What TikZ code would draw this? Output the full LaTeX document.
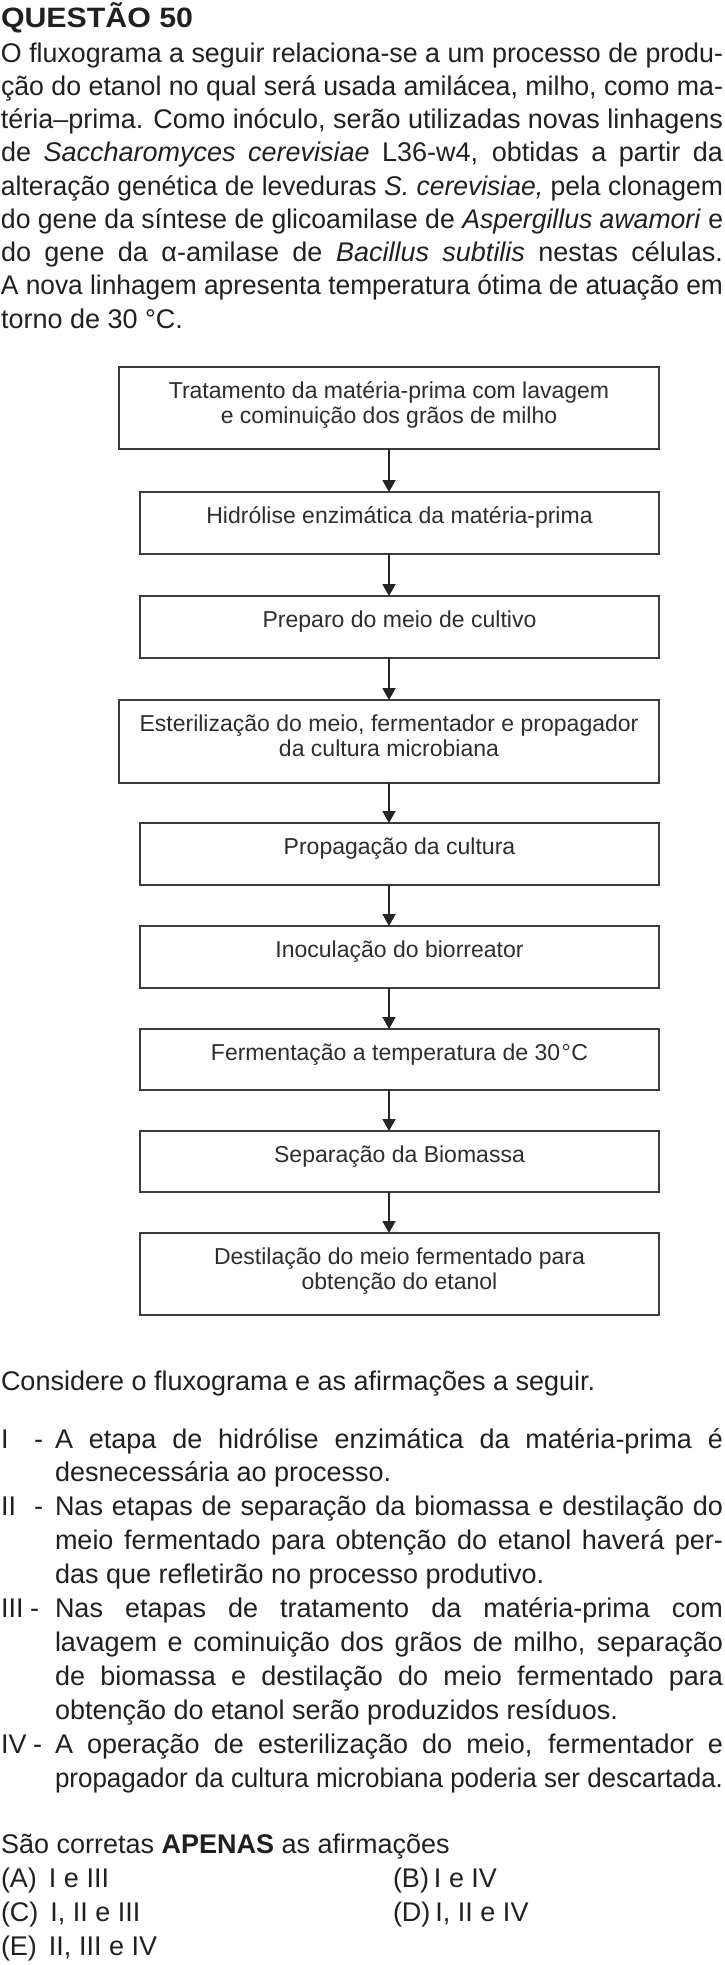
\documentclass[tikz,border=0pt]{standalone}
\usepackage{fontspec}
\setmainfont{Liberation Sans}
\usepackage{graphicx}
\usetikzlibrary{arrows.meta}
\definecolor{ink}{RGB}{35,31,32}
\definecolor{boxline}{RGB}{60,60,60}
\definecolor{boxink}{RGB}{45,45,45}
\newlength\jlw
\newcommand\jline[2]{\settowidth\jlw{#2}\ifdim\jlw>#1\relax\resizebox{#1}{\height}{#2}\else\makebox[#1][s]{#2}\fi}
\newcommand\bodyln[1]{\hbox{\jline{722bp}{#1}}}
\newcommand\stmln[1]{\hbox{\jline{668bp}{#1}}}
\newcommand\mylines[2]{\vtop{\baselineskip=#1\lineskiplimit=-100bp\lineskip=0bp\relax #2}}
\tikzset{
  txt/.style={inner sep=0pt, outer sep=0pt, text=ink, anchor=base west, font=\fontsize{27.1}{33.4}\selectfont},
  ttl/.style={txt, font=\fontsize{28.1}{33}\selectfont\bfseries},
  flowbox/.style={draw=boxline, line width=1.4bp, inner sep=0pt, outer sep=0pt, minimum height=62bp, minimum width=519bp},
  btxt/.style={inner sep=0pt, outer sep=0pt, text=boxink, align=center, anchor=north, font=\fontsize{23.1}{25.6}\selectfont},
  arr/.style={draw=black!85, line width=1.9bp, -{Triangle[length=12bp,width=13bp]}}
}
\begin{document}
\begin{tikzpicture}[x=1bp,y=-1bp]
\useasboundingbox[fill=white] (0,0) rectangle (725,1965);

% title and introduction
\node[ttl] (title) at (1,27) {\resizebox{192bp}{\height}{QUESTÃO 50}};
\node[txt] (intro) at (1,62) {\mylines{33.25bp}{%
\bodyln{O fluxograma a seguir relaciona-se a um processo de produ-}
\bodyln{ção do etanol no qual será usada amilácea, milho, como ma-}
\bodyln{téria–prima. Como inóculo, serão utilizadas novas linhagens}
\bodyln{de \textit{Saccharomyces cerevisiae} L36-w4, obtidas a partir da}
\bodyln{alteração genética de leveduras \textit{S. cerevisiae,} pela clonagem}
\bodyln{do gene da síntese de glicoamilase de \textit{Aspergillus awamori} e}
\bodyln{do gene da α-amilase de \textit{Bacillus subtilis} nestas células.}
\bodyln{A nova linhagem apresenta temperatura ótima de atuação em}
\hbox{torno de 30 °C.}}};

% flowchart boxes
\node[flowbox, minimum width=540bp, minimum height=82bp] (b1) at (389,408) {};
\node[flowbox] (b2) at (399.5,523) {};
\node[flowbox] (b3) at (399.5,627) {};
\node[flowbox, minimum width=540bp, minimum height=83bp] (b4) at (389,741.5) {};
\node[flowbox] (b5) at (399.5,854) {};
\node[flowbox] (b6) at (399.5,957) {};
\node[flowbox, minimum height=61bp] (b7) at (399.5,1059.5) {};
\node[flowbox, minimum height=61bp] (b8) at (399.5,1161.5) {};
\node[flowbox, minimum height=82bp] (b9) at (399.5,1274) {};

\node[btxt] (t1) at ([yshift=-11bp]b1.north) {\rule{0pt}{20bp}Tratamento da matéria-prima com lavagem\\e cominuição dos grãos de milho};
\node[btxt] (t2) at ([yshift=-11bp]b2.north) {\rule{0pt}{20bp}Hidrólise enzimática da matéria-prima};
\node[btxt] (t3) at ([yshift=-11bp]b3.north) {\rule{0pt}{20bp}Preparo do meio de cultivo};
\node[btxt] (t4) at ([yshift=-11bp]b4.north) {\rule{0pt}{20bp}Esterilização do meio, fermentador e propagador\\da cultura microbiana};
\node[btxt] (t5) at ([yshift=-11bp]b5.north) {\rule{0pt}{20bp}Propagação da cultura};
\node[btxt] (t6) at ([yshift=-11bp]b6.north) {\rule{0pt}{20bp}Inoculação do biorreator};
\node[btxt] (t7) at ([yshift=-11bp]b7.north) {\rule{0pt}{20bp}Fermentação a temperatura de 30\kern1.5bp°\kern0.5bpC};
\node[btxt] (t8) at ([yshift=-11bp]b8.north) {\rule{0pt}{20bp}Separação da Biomassa};
\node[btxt] (t9) at ([yshift=-11bp]b9.north) {\rule{0pt}{20bp}Destilação do meio fermentado para\\obtenção do etanol};

% arrows
\draw[arr] (b1.south) -- (b1.south |- b2.north);
\draw[arr] (b1.south |- b2.south) -- (b1.south |- b3.north);
\draw[arr] (b1.south |- b3.south) -- (b1.south |- b4.north);
\draw[arr] (b1.south |- b4.south) -- (b1.south |- b5.north);
\draw[arr] (b1.south |- b5.south) -- (b1.south |- b6.north);
\draw[arr] (b1.south |- b6.south) -- (b1.south |- b7.north);
\draw[arr] (b1.south |- b7.south) -- (b1.south |- b8.north);
\draw[arr] (b1.south |- b8.south) -- (b1.south |- b9.north);

% statements
\node[txt] (cons) at (1,1390) {Considere o fluxograma e as afirmações a seguir.};
\node[txt] (l1) at (1,1448) {I};
\node[txt] (d1) at (34,1448) {-};
\node[txt] (l2) at (1,1515.8) {II};
\node[txt] (d2) at (34,1515.8) {-};
\node[txt] (l3) at (1,1617.5) {III};
\node[txt] (d3) at (30,1617.5) {-};
\node[txt] (l4) at (1,1753.1) {IV};
\node[txt] (d4) at (33,1753.1) {-};
\node[txt] (stm) at (55,1448) {\mylines{33.9bp}{%
\stmln{A etapa de hidrólise enzimática da matéria-prima é}
\hbox{desnecessária ao processo.}
\stmln{Nas etapas de separação da biomassa e destilação do}
\stmln{meio fermentado para obtenção do etanol haverá per-}
\hbox{das que refletirão no processo produtivo.}
\stmln{Nas etapas de tratamento da matéria-prima com}
\stmln{lavagem e cominuição dos grãos de milho, separação}
\stmln{de biomassa e destilação do meio fermentado para}
\hbox{obtenção do etanol serão produzidos resíduos.}
\stmln{A operação de esterilização do meio, fermentador e}
\stmln{propagador da cultura microbiana poderia ser descartada.}}};

% answer options
\node[txt] (ask) at (1,1853) {São corretas \textbf{APENAS} as afirmações};
\node[txt] (oa) at (1,1887) {(A)\hspace{12bp}I e III};
\node[txt] (ob) at (393,1887) {(B)\hspace{5bp}I e IV};
\node[txt] (oc) at (1,1921) {(C)\hspace{12bp}I, II e III};
\node[txt] (od) at (393,1921) {(D)\hspace{5bp}I, II e IV};
\node[txt] (oe) at (1,1955) {(E)\hspace{12bp}II, III e IV};
\end{tikzpicture}
\end{document}
